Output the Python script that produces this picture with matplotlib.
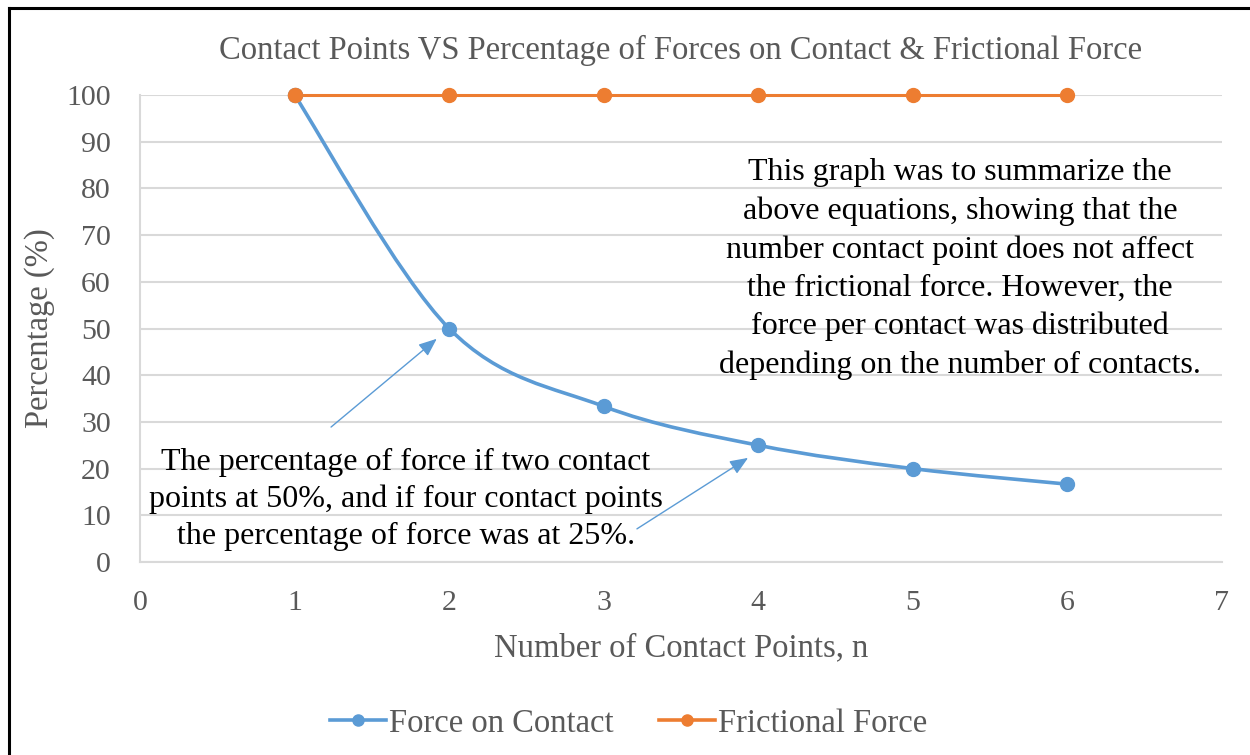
import numpy as np
import matplotlib
matplotlib.use("Agg")
import matplotlib.pyplot as plt
from matplotlib.path import Path
from matplotlib.patches import PathPatch
from matplotlib.lines import Line2D

plt.rcParams['font.family'] = ['Liberation Serif', 'DejaVu Serif']

contacts = [1, 2, 3, 4, 5, 6]
force_on_contact = [100, 50, 33.33, 25, 20, 16.67]
frictional_force = [100, 100, 100, 100, 100, 100]

title = "Contact Points VS Percentage of Forces on Contact & Frictional Force"
note_right = ("This graph was to summarize the\nabove equations, showing that the\n"
              "number contact point does not affect\nthe frictional force. However, the\n"
              "force per contact was distributed\ndepending on the number of contacts.")
note_left = ("The percentage of force if two contact\npoints at 50%, and if four contact points\n"
             "the percentage of force was at 25%.")

BLUE = "#5B9BD5"
ORANGE = "#ED7D31"
GREY = "#595959"
GRID = "#D9D9D9"


def smooth_path(x, y):
    # excel style smoothed line: cubic bezier segments, catmull-rom tangents
    pts = np.column_stack([x, y]).astype(float)
    n = len(pts)
    verts = [pts[0]]
    codes = [Path.MOVETO]
    for i in range(n - 1):
        p0 = pts[max(i - 1, 0)]
        p1 = pts[i]
        p2 = pts[i + 1]
        p3 = pts[min(i + 2, n - 1)]
        c1 = p1 + (p2 - p0) / 6.0
        c2 = p2 - (p3 - p1) / 6.0
        verts += [c1, c2, p2]
        codes += [Path.CURVE4] * 3
    return Path(verts, codes)


fig = plt.figure(figsize=(12.5, 7.55), dpi=100)
ax = fig.add_axes([0.112, 0.2556, 0.8656, 0.6186])

ax.set_xlim(0, 7)
ax.set_ylim(0, 100)
ax.set_xticks(range(0, 8))
ax.set_yticks(range(0, 101, 10))
ax.yaxis.grid(True, color=GRID, linewidth=1.5)
ax.set_axisbelow(True)
for side in ["top", "right"]:
    ax.spines[side].set_visible(False)
for side in ["left", "bottom"]:
    ax.spines[side].set_color(GRID)
    ax.spines[side].set_linewidth(1.5)
ax.tick_params(length=0, labelsize=21.5, colors=GREY)
ax.tick_params(axis="x", pad=20)
ax.tick_params(axis="y", pad=21)

# frictional force: straight line with markers
ax.plot(contacts, frictional_force, color=ORANGE, linewidth=2.2,
        marker="o", markersize=10, zorder=3, clip_on=False)

# force on contact: smoothed curve plus markers
ax.add_patch(PathPatch(smooth_path(contacts, force_on_contact), facecolor="none",
                       edgecolor=BLUE, linewidth=2.6, zorder=3))
ax.plot(contacts, force_on_contact, linestyle="none", color=BLUE,
        marker="o", markersize=10, zorder=4, clip_on=False)
# orange marker sits on top at n = 1
ax.plot(contacts[:1], frictional_force[:1], linestyle="none", color=ORANGE,
        marker="o", markersize=10, zorder=5, clip_on=False)

ax.set_title(title, fontsize=23.5, color=GREY, pad=26)
ax.set_xlabel("Number of Contact Points, n", fontsize=23.5, color=GREY, labelpad=12)
ax.set_ylabel("Percentage (%)", fontsize=23.5, color=GREY, labelpad=8)

ax.text(5.305, 62.7, note_right, ha="center", va="center", fontsize=23,
        color="black", linespacing=1.41)
ax.text(1.72, 13.4, note_left, ha="center", va="center", fontsize=23,
        color="black", linespacing=1.35)

arrow = dict(arrowstyle="-|>,head_length=1.1,head_width=0.45", color=BLUE,
             linewidth=1.0, shrinkA=0, shrinkB=0)
ax.annotate("", xy=(1.92, 47.8), xytext=(1.236, 28.9), arrowprops=arrow)
ax.annotate("", xy=(3.934, 22.3), xytext=(3.215, 7.1), arrowprops=arrow)

handles = [Line2D([], [], color=BLUE, linewidth=2.6, marker="o", markersize=8),
           Line2D([], [], color=ORANGE, linewidth=2.6, marker="o", markersize=8)]
leg = fig.legend(handles, ["Force on Contact", "Frictional Force"],
                 loc="center", bbox_to_anchor=(0.503, 0.042), ncol=2, frameon=False,
                 fontsize=23.5, handlelength=1.7, handletextpad=0.1, columnspacing=1.4)
for t in leg.get_texts():
    t.set_color(GREY)

# black frame around the figure
fig.add_artist(Line2D([0.0072, 0.0072], [0, 0.9894], color="black", linewidth=2.2,
                      transform=fig.transFigure))
fig.add_artist(Line2D([0.0072, 1.0], [0.9894, 0.9894], color="black", linewidth=2.2,
                      transform=fig.transFigure))

fig.savefig("out.png", dpi=100, facecolor="white")
